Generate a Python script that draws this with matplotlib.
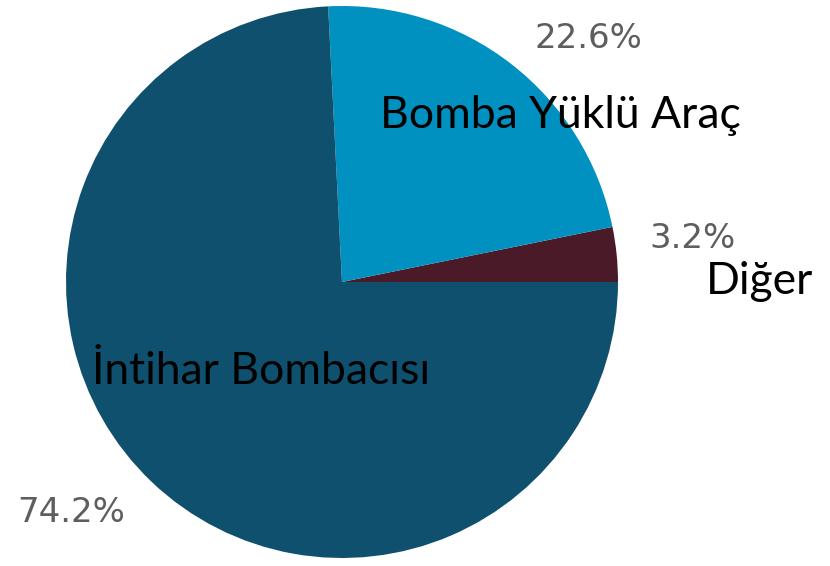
import matplotlib
matplotlib.use("Agg")
import matplotlib.pyplot as plt

categories = ["Diğer", "Bomba Yüklü Araç", "İntihar Bombacısı"]
values = [3.2, 22.6, 74.2]
pct_labels = ["3.2%", "22.6%", "74.2%"]
colors = ["#4a1a28", "#0091c1", "#10506f"]

W, H = 830, 566
fig = plt.figure(figsize=(W / 100, H / 100), dpi=100)
ax = fig.add_axes([0, 0, 1, 1])

cx, cy, r = 342, H - 282, 276
ax.pie(values, colors=colors, startangle=0, counterclock=True,
       center=(cx, cy), radius=r, frame=True,
       wedgeprops=dict(linewidth=0))
ax.set_xlim(0, W)
ax.set_ylim(0, H)
ax.set_aspect("equal")
ax.axis("off")

pct_pos = [(692, 238), (588, 38), (71, 512)]
cat_pos = [(760, 281), (560, 115), (261, 372)]

for t, (x, y) in zip(pct_labels, pct_pos):
    ax.text(x, H - y, t, ha="center", va="center", fontsize=24.5,
            color="#5e5e5e", family="DejaVu Sans")
for t, (x, y) in zip(categories, cat_pos):
    ax.text(x, H - y, t, ha="center", va="center", fontsize=32,
            color="black", family=["Lato", "DejaVu Sans"])

fig.savefig("out.png", dpi=100)
